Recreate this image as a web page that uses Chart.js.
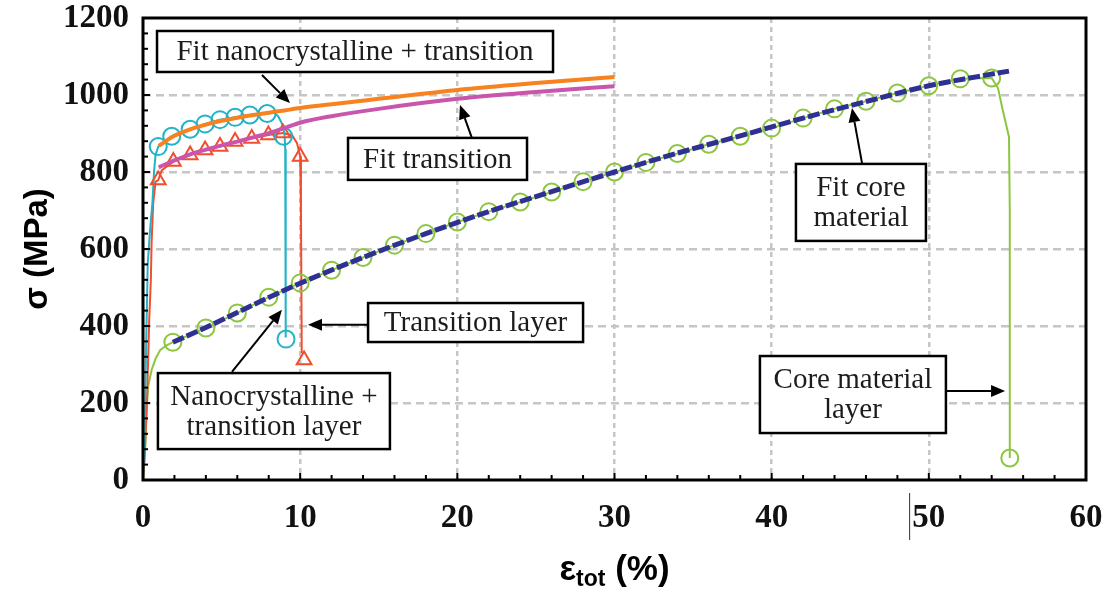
<!DOCTYPE html>
<html>
<head>
<meta charset="utf-8">
<script src="https://cdn.jsdelivr.net/npm/chart.js@4/dist/chart.umd.min.js"></script>
<style>
  html, body { margin: 0; padding: 0; background: #fff; }
  #wrap { width: 1110px; height: 590px; }
</style>
</head>
<body>
<div id="wrap"><canvas id="stressChart" width="1110" height="590"></canvas></div>
<script>
// strain eps_tot (%) and stress sigma (MPa)

// core material layer (measured)
const coreStrain = [0, 0.13, 0.23, 0.32, 0.55, 0.8, 1.1, 1.5, 1.9, 4, 6, 8, 10, 12, 14, 16, 18, 20, 22, 24, 26, 28, 30, 32, 34, 36, 38, 40, 42, 44, 46, 48, 50, 52, 54, 54.4, 54.7, 54.85, 55.1, 55.15, 55.15];
const coreStress = [0, 70, 174, 242, 286, 315, 338, 350, 358, 395, 434, 475, 512, 545, 578, 610, 640, 670, 697, 722, 748, 775, 800, 825, 848, 872, 893, 914, 940, 964, 984, 1005, 1024, 1042, 1044, 1018, 961, 935, 891, 700, 57];
const coreMarkX = [1.9, 4, 6, 8, 10, 12, 14, 16, 18, 20, 22, 24, 26, 28, 30, 32, 34, 36, 38, 40, 42, 44, 46, 48, 50, 52, 54, 55.15];
const coreMarkY = [358, 395, 434, 475, 512, 545, 578, 610, 640, 670, 697, 722, 748, 775, 800, 825, 848, 872, 893, 914, 940, 964, 984, 1005, 1024, 1042, 1044, 57];

// fit core material
const coreFitX = [1.9, 4, 6, 8, 10, 14, 18, 22, 26, 30, 34, 38, 42, 46, 50, 53, 55.1];
const coreFitY = [358, 396, 435, 474, 511, 578, 640, 697, 749, 800, 849, 894, 940, 983, 1024, 1047, 1062];

// nanocrystalline + transition layer (measured)
const nanoStrain = [0, 0.1, 0.2, 0.3, 0.45, 0.6, 0.7, 0.8, 0.97, 1.83, 3.0, 3.95, 4.9, 5.86, 6.8, 7.9, 8.3, 8.6, 8.85, 9.0, 9.05, 9.08];
const nanoStress = [0, 120, 350, 560, 650, 720, 800, 845, 866, 893, 911, 925, 936, 942, 948, 952, 955, 945, 925, 900, 860, 370];
const nanoMarkX = [0.97, 1.83, 3.0, 3.95, 4.9, 5.86, 6.8, 7.9, 8.94, 9.1];
const nanoMarkY = [866, 893, 911, 925, 936, 942, 948, 952, 893, 366];

// transition layer (measured)
const transStrain = [0, 0.1, 0.25, 0.4, 0.5, 0.55, 0.65, 0.8, 0.97, 1.2, 1.93, 3.0, 3.95, 4.9, 5.86, 6.92, 7.98, 8.9, 9.5, 9.8, 10.0, 10.05, 10.1];
const transStress = [0, 60, 200, 420, 520, 620, 720, 775, 779, 805, 827, 844, 857, 866, 879, 887, 896, 901, 895, 875, 840, 700, 330];
const transMarkX = [0.97, 1.93, 3.0, 3.95, 4.9, 5.86, 6.92, 7.98, 8.9, 10.0, 10.25];
const transMarkY = [779, 827, 844, 857, 866, 879, 887, 896, 901, 840, 312];

// fits
const fitNanoX = [1.0, 2, 3, 4, 5, 6, 7, 8, 9, 10, 12, 15, 20, 25, 30];
const fitNanoY = [868, 894, 911, 923, 933, 941, 948, 954, 960, 966, 976, 990, 1013, 1031, 1047];
const fitTransX = [1.0, 2, 3, 4, 5, 6, 7, 8, 9, 10, 12, 15, 20, 25, 30];
const fitTransY = [812, 830, 846, 858, 869, 879, 890, 901, 914, 928, 945, 964, 990, 1008, 1023];

// axis ticks
const xTicks = [0, 10, 20, 30, 40, 50, 60];
const yTicks = [0, 200, 400, 600, 800, 1000, 1200];

const pts = (xs, ys) => xs.map((x, i) => ({ x: x, y: ys[i] }));

const GREEN = '#8cc63f';
const NAVY = '#2e3192';
const CYAN = '#21b3c9';
const RED = '#f04e2e';
const ORANGE = '#f7821f';
const MAGENTA = '#c955ad';

// text boxes with arrows (anchors in data units)
const notes = [
  { lines: ['Fit nanocrystalline + transition'], at: [13.49, 1113], w: 396, h: 41, from: [7.57, 1052], to: [9.35, 979] },
  { lines: ['Fit transition'], at: [18.74, 834], w: 179, h: 42, from: [20.93, 888], to: [20.17, 974] },
  { lines: ['Fit core', 'material'], at: [45.68, 721], w: 130, h: 77, from: [45.75, 823], to: [45.11, 966] },
  { lines: ['Transition layer'], at: [21.16, 409], w: 215, h: 39, from: [14.32, 403], to: [10.5, 403] },
  { lines: ['Nanocrystalline +', 'transition layer'], at: [8.33, 179], w: 232, h: 76, from: [5.66, 281], to: [8.84, 442] },
  { lines: ['Core material', 'layer'], at: [45.17, 222], w: 186, h: 77, from: [51.09, 231], to: [54.85, 231] }
];

function arrow(ctx, x1, y1, x2, y2) {
  const ang = Math.atan2(y2 - y1, x2 - x1);
  const len = 14, half = 6;
  const bx = x2 - len * Math.cos(ang), by = y2 - len * Math.sin(ang);
  ctx.beginPath();
  ctx.moveTo(x1, y1);
  ctx.lineTo(bx, by);
  ctx.stroke();
  ctx.beginPath();
  ctx.moveTo(x2, y2);
  ctx.lineTo(bx + half * Math.sin(ang), by - half * Math.cos(ang));
  ctx.lineTo(bx - half * Math.sin(ang), by + half * Math.cos(ang));
  ctx.closePath();
  ctx.fill();
}

const notesPlugin = {
  id: 'notes',
  afterDatasetsDraw(chart) {
    const { ctx, scales: { x, y } } = chart;
    ctx.save();
    notes.forEach(n => {
      const cx = x.getPixelForValue(n.at[0]);
      const cy = y.getPixelForValue(n.at[1]);
      ctx.strokeStyle = '#000';
      ctx.fillStyle = '#000';
      ctx.lineWidth = 2;
      arrow(ctx, x.getPixelForValue(n.from[0]), y.getPixelForValue(n.from[1]),
        x.getPixelForValue(n.to[0]), y.getPixelForValue(n.to[1]));
      ctx.fillStyle = '#fff';
      ctx.fillRect(cx - n.w / 2, cy - n.h / 2, n.w, n.h);
      ctx.lineWidth = 2.5;
      ctx.strokeRect(cx - n.w / 2, cy - n.h / 2, n.w, n.h);
      ctx.fillStyle = '#1c1c1c';
      ctx.font = '29px "Liberation Serif", serif';
      ctx.textAlign = 'center';
      ctx.textBaseline = 'middle';
      const lh = 30;
      n.lines.forEach((t, i) => {
        ctx.fillText(t, cx, cy + (i - (n.lines.length - 1) / 2) * lh + 1);
      });
    });
    ctx.restore();
  }
};

const framePlugin = {
  id: 'frame',
  afterDraw(chart) {
    const { ctx, chartArea: a, scales: { x, y } } = chart;
    ctx.save();
    ctx.strokeStyle = '#000';
    ctx.lineWidth = 2;
    // inward minor ticks on left and bottom
    for (let v = 2; v < 60; v += 2) {
      const px = x.getPixelForValue(v);
      ctx.beginPath();
      ctx.moveTo(px, a.bottom);
      ctx.lineTo(px, a.bottom - (v % 10 === 0 ? 7 : 5));
      ctx.stroke();
    }
    for (let v = 40; v < 1200; v += 40) {
      const py = y.getPixelForValue(v);
      ctx.beginPath();
      ctx.moveTo(a.left, py);
      ctx.lineTo(a.left + (v % 200 === 0 ? 7 : 5), py);
      ctx.stroke();
    }
    ctx.lineWidth = 3;
    ctx.strokeRect(a.left, a.top, a.right - a.left, a.bottom - a.top);

    // stray mark beside the 50 label in the original
    ctx.lineWidth = 1;
    ctx.strokeStyle = '#333';
    ctx.beginPath();
    ctx.moveTo(x.getPixelForValue(49) - 3.5, a.bottom + 13);
    ctx.lineTo(x.getPixelForValue(49) - 3.5, a.bottom + 60);
    ctx.stroke();

    // x axis title with subscript
    ctx.fillStyle = '#000';
    ctx.textBaseline = 'alphabetic';
    ctx.textAlign = 'left';
    const big = 'bold 35px "Liberation Sans", Arial, sans-serif';
    const small = 'bold 23px "Liberation Sans", Arial, sans-serif';
    ctx.font = big; const w1 = ctx.measureText('\u03b5').width;
    ctx.font = small; const w2 = ctx.measureText('tot').width;
    ctx.font = big; const w3 = ctx.measureText(' (%)').width;
    const cx = (a.left + a.right) / 2;
    let sx = cx - (w1 + w2 + w3) / 2;
    const base = 580;
    ctx.font = big; ctx.fillText('\u03b5', sx, base);
    ctx.font = small; ctx.fillText('tot', sx + w1, base + 6);
    ctx.font = big; ctx.fillText(' (%)', sx + w1 + w2, base);
    ctx.restore();
  }
};

const tickFont = { family: '"Liberation Serif", "Times New Roman", serif', size: 33, weight: 'bold' };

const ctx = document.getElementById('stressChart').getContext('2d');
new Chart(ctx, {
  type: 'scatter',
  data: {
    datasets: [
      { label: 'Fit nanocrystalline + transition', data: pts(fitNanoX, fitNanoY), showLine: true, borderColor: ORANGE, borderWidth: 4, pointRadius: 0, cubicInterpolationMode: 'monotone' },
      { label: 'Fit transition', data: pts(fitTransX, fitTransY), showLine: true, borderColor: MAGENTA, borderWidth: 4, pointRadius: 0, cubicInterpolationMode: 'monotone' },
      { label: 'Fit core material', data: pts(coreFitX, coreFitY), showLine: true, borderColor: NAVY, borderWidth: 5, borderDash: [12, 3], pointRadius: 0, cubicInterpolationMode: 'monotone' },
      { label: 'Nano markers', data: pts(nanoMarkX, nanoMarkY), showLine: false, pointStyle: 'circle', pointRadius: 8.5, pointBorderWidth: 2, pointBorderColor: CYAN, pointBackgroundColor: 'rgba(0,0,0,0)' },
      { label: 'Transition markers', data: pts(transMarkX, transMarkY), showLine: false, pointStyle: 'triangle', pointRadius: 8.5, pointBorderWidth: 2, pointBorderColor: RED, pointBackgroundColor: 'rgba(0,0,0,0)' },
      { label: 'Core markers', data: pts(coreMarkX, coreMarkY), showLine: false, pointStyle: 'circle', pointRadius: 8.5, pointBorderWidth: 2, pointBorderColor: GREEN, pointBackgroundColor: 'rgba(0,0,0,0)' },
      { label: 'Nanocrystalline + transition layer', data: pts(nanoStrain, nanoStress), showLine: true, borderColor: CYAN, borderWidth: 2, pointRadius: 0 },
      { label: 'Transition layer', data: pts(transStrain, transStress), showLine: true, borderColor: RED, borderWidth: 2, pointRadius: 0 },
      { label: 'Core material layer', data: pts(coreStrain, coreStress), showLine: true, borderColor: GREEN, borderWidth: 2, pointRadius: 0 }
    ]
  },
  options: {
    responsive: false,
    animation: false,
    layout: { padding: { left: 0, right: 24, top: 18, bottom: 0 } },
    plugins: { legend: { display: false }, tooltip: { enabled: false } },
    scales: {
      x: {
        type: 'linear', min: 0, max: 60,
        afterFit: s => { s.height = 110; s.paddingLeft = 0; s.paddingRight = 0; },
        afterBuildTicks: s => { s.ticks = xTicks.map(v => ({ value: v })); },
        ticks: { font: tickFont, color: '#111', padding: 19, maxRotation: 0, callback: v => String(v) },
        grid: { drawTicks: false, lineWidth: 2.5, color: c => (c.tick && (c.tick.value === 0 || c.tick.value === 60)) ? 'rgba(0,0,0,0)' : '#c6c6c6' },
        border: { display: false, dash: [5, 4] },
        title: { display: false }
      },
      y: {
        type: 'linear', min: 0, max: 1200,
        afterFit: s => { s.width = 143; s.paddingTop = 0; s.paddingBottom = 0; },
        afterBuildTicks: s => { s.ticks = yTicks.map(v => ({ value: v })); },
        ticks: { font: tickFont, color: '#111', padding: 14, callback: v => String(v) },
        grid: { drawTicks: false, lineWidth: 2.5, color: c => (c.tick && (c.tick.value === 0 || c.tick.value === 1200)) ? 'rgba(0,0,0,0)' : '#c6c6c6' },
        border: { display: false, dash: [8, 5] },
        title: { display: true, text: '\u03c3 (MPa)', color: '#000', font: { family: '"Liberation Sans", Arial, sans-serif', size: 33, weight: 'bold' }, padding: { top: 18, bottom: 0 } }
      }
    }
  },
  plugins: [notesPlugin, framePlugin]
});
</script>
</body>
</html>
